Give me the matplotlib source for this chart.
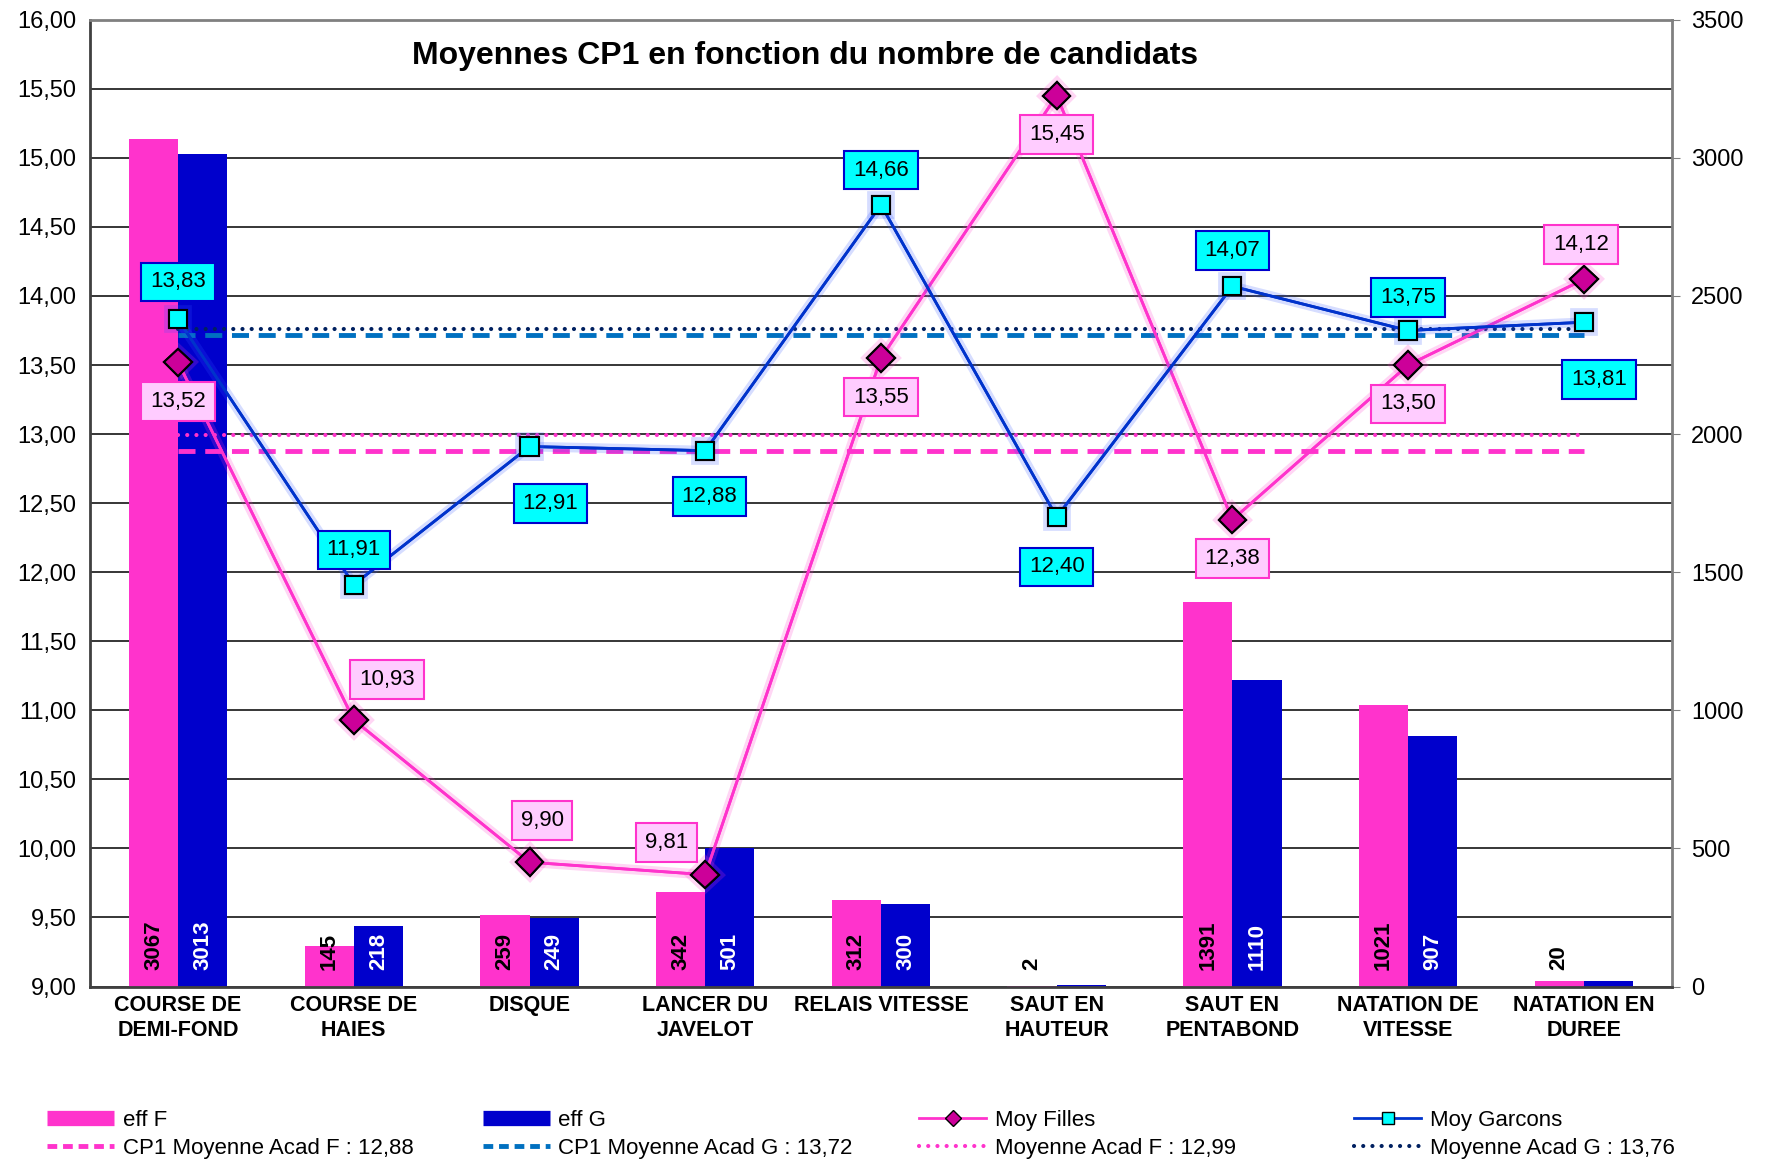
import numpy as np
import matplotlib
matplotlib.use("Agg")
import matplotlib.pyplot as plt
import matplotlib.patheffects as pe
from matplotlib.lines import Line2D
from matplotlib.ticker import FuncFormatter, MultipleLocator

plt.rcParams['font.family'] = ['Liberation Sans', 'DejaVu Sans']

categories = ["COURSE DE\nDEMI-FOND", "COURSE DE\nHAIES", "DISQUE", "LANCER DU\nJAVELOT",
              "RELAIS VITESSE", "SAUT EN\nHAUTEUR", "SAUT EN\nPENTABOND",
              "NATATION DE\nVITESSE", "NATATION EN\nDUREE"]
eff_f = [3067, 145, 259, 342, 312, 2, 1391, 1021, 20]
eff_g = [3013, 218, 249, 501, 300, 5, 1110, 907, 20]
show_g_label = [True, True, True, True, True, False, True, True, False]
moy_filles = [13.52, 10.93, 9.90, 9.81, 13.55, 15.45, 12.38, 13.50, 14.12]
moy_garcons = [13.83, 11.91, 12.91, 12.88, 14.66, 12.40, 14.07, 13.75, 13.81]
cp1_acad_f = 12.88
cp1_acad_g = 13.72
acad_f = 12.99
acad_g = 13.76

# label offsets (points) for the data labels of the two lines
off_f = [(0, -28), (24, 29), (9, 30), (-28, 23), (0, -28), (0, -28), (0, -28), (0, -28), (-2, 25)]
off_g = [(0, 27), (0, 25), (15, -41), (3, -33), (0, 25), (0, -36), (0, 26), (0, 24), (11, -41)]

PINK = '#FF33CC'
BLUE = '#0000CC'
LINE_BLUE = '#0033CC'

fig = plt.figure(figsize=(17.69, 11.62), dpi=100)
ax = fig.add_axes([0.051, 0.151, 0.894, 0.832])
x = np.arange(len(categories))
w = 0.28

# bars on the right axis
ax.bar(x - w / 2, eff_f, w, color=PINK, zorder=2)
ax.bar(x + w / 2, eff_g, w, color=BLUE, zorder=2)
ax.set_ylim(0, 3500)
ax.set_xlim(-0.5, len(categories) - 0.5)
ax.yaxis.set_major_locator(MultipleLocator(500))
ax.yaxis.set_minor_locator(MultipleLocator(250))
ax.grid(axis='y', which='both', color='black', lw=1.1, zorder=0)
ax.set_axisbelow(True)
ax.set_xticks(x)
ax.set_xticklabels(categories, fontsize=15.5, fontweight='bold', linespacing=1.25)
ax.tick_params(axis='x', length=0, pad=6)
for s in ['top', 'right']:
    ax.spines[s].set_color('#808080')
    ax.spines[s].set_linewidth(2)
for s in ['left', 'bottom']:
    ax.spines[s].set_color('#404040')
    ax.spines[s].set_linewidth(2)

for i in range(len(categories)):
    ax.annotate(str(eff_f[i]), (x[i] - w / 2, 0), xytext=(0, 12), textcoords='offset points',
                rotation=90, ha='center', va='bottom', fontsize=16, fontweight='bold',
                color='black', zorder=3)
    if show_g_label[i]:
        ax.annotate(str(eff_g[i]), (x[i] + w / 2, 0), xytext=(0, 12), textcoords='offset points',
                    rotation=90, ha='center', va='bottom', fontsize=16, fontweight='bold',
                    color='white', zorder=3)

# lines on the left axis
ax2 = ax.twinx()
ax2.yaxis.tick_left()
ax2.set_ylim(9, 16)
ax2.yaxis.set_major_locator(MultipleLocator(0.5))
ax2.yaxis.set_major_formatter(FuncFormatter(lambda v, p: f"{v:.2f}".replace('.', ',')))
ax2.tick_params(axis='y', labelsize=17, length=0, pad=10)
for s in ax2.spines.values():
    s.set_visible(False)

# twinx puts the original ticks on the left, so move them back to the right
ax.yaxis.tick_right()
ax.tick_params(axis='y', which='major', labelsize=17, length=6, color='#808080', pad=8)
ax.tick_params(axis='y', which='minor', length=0)

x0, x1 = x[0], x[-1]
ax2.plot([x0, x1], [cp1_acad_f, cp1_acad_f], color=PINK, lw=3.5, ls=(0, (3.5, 2)), zorder=3)
ax2.plot([x0, x1], [cp1_acad_g, cp1_acad_g], color='#0070C0', lw=3.5, ls=(0, (3.5, 2)), zorder=3)
ax2.plot([x0, x1], [acad_f, acad_f], color=PINK, lw=3, ls=(0, (0.01, 2.2)),
         dash_capstyle='round', zorder=3)
ax2.plot([x0, x1], [acad_g, acad_g], color='#002060', lw=3, ls=(0, (0.01, 2.2)),
         dash_capstyle='round', zorder=3)

glow_f = [pe.withStroke(linewidth=7, foreground=PINK, alpha=0.2), pe.Normal()]
glow_g = [pe.withStroke(linewidth=7, foreground='#3355FF', alpha=0.2), pe.Normal()]
ax2.plot(x, moy_filles, color=PINK, lw=2, marker='D', markersize=14,
         markerfacecolor='#CC0099', markeredgecolor='black', markeredgewidth=1.5,
         path_effects=glow_f, zorder=4)
ax2.plot(x, moy_garcons, color=LINE_BLUE, lw=2, marker='s', markersize=13,
         markerfacecolor='#00FFFF', markeredgecolor='black', markeredgewidth=1.5,
         path_effects=glow_g, zorder=4)

for i in range(len(categories)):
    ax2.annotate(f"{moy_filles[i]:.2f}".replace('.', ','), (x[i], moy_filles[i]),
                 xytext=off_f[i], textcoords='offset points', ha='center', va='center',
                 fontsize=16, zorder=6,
                 bbox=dict(boxstyle='square,pad=0.4', fc='#FFCCFF', ec=PINK, lw=1.5))
    ax2.annotate(f"{moy_garcons[i]:.2f}".replace('.', ','), (x[i], moy_garcons[i]),
                 xytext=off_g[i], textcoords='offset points', ha='center', va='center',
                 fontsize=16, zorder=6,
                 bbox=dict(boxstyle='square,pad=0.4', fc='#00FFFF', ec=BLUE, lw=1.5))

ax2.text(0.452, 0.962, "Moyennes CP1 en fonction du nombre de candidats", transform=ax2.transAxes,
         ha='center', va='center', fontsize=23, fontweight='bold')

# legend: four columns of two entries
cols = [
    [(Line2D([], [], color=PINK, lw=11, solid_capstyle='butt'), "eff F"),
     (Line2D([], [], color=PINK, lw=3.5, ls=(0, (2, 1.2))), "CP1 Moyenne Acad F : 12,88")],
    [(Line2D([], [], color=BLUE, lw=11, solid_capstyle='butt'), "eff G"),
     (Line2D([], [], color='#0070C0', lw=3.5, ls=(0, (2, 1.2))), "CP1 Moyenne Acad G : 13,72")],
    [(Line2D([], [], color=PINK, lw=2, marker='D', markersize=8, markerfacecolor='#CC0099',
             markeredgecolor='black'), "Moy Filles"),
     (Line2D([], [], color=PINK, lw=3, ls=(0, (0.01, 2.2)), dash_capstyle='round'),
      "Moyenne Acad F : 12,99")],
    [(Line2D([], [], color=LINE_BLUE, lw=2, marker='s', markersize=8, markerfacecolor='#00FFFF',
             markeredgecolor='black'), "Moy Garcons"),
     (Line2D([], [], color='#002060', lw=3, ls=(0, (0.01, 2.2)), dash_capstyle='round'),
      "Moyenne Acad G : 13,76")],
]
col_x = [0.0268, 0.273, 0.5196, 0.7655]
for cx, entries in zip(col_x, cols):
    fig.legend([h for h, _ in entries], [l for _, l in entries], loc='center left',
               bbox_to_anchor=(cx, 0.0237), frameon=False, borderpad=0, borderaxespad=0,
               handlelength=3, handletextpad=0.4, labelspacing=0.3, fontsize=16)

fig.savefig("out.png", dpi=100)
